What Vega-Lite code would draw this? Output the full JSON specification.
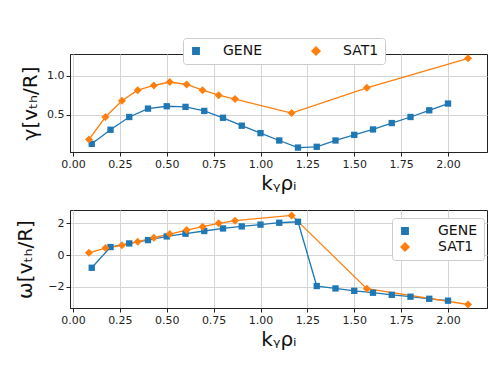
{
  "$schema": "https://vega.github.io/schema/vega-lite/v6.json",
  "padding": {"left": 15, "top": 37, "right": 0, "bottom": 0},
  "spacing": 15,
  "background": "white",
  "datasets": {
    "d": [
      {"series": "GENE", "ky": 0.1, "gamma": 0.125, "omega": -0.8},
      {"series": "GENE", "ky": 0.2, "gamma": 0.306, "omega": 0.5},
      {"series": "GENE", "ky": 0.3, "gamma": 0.47, "omega": 0.73},
      {"series": "GENE", "ky": 0.4, "gamma": 0.578, "omega": 0.94},
      {"series": "GENE", "ky": 0.5, "gamma": 0.608, "omega": 1.17},
      {"series": "GENE", "ky": 0.6, "gamma": 0.6, "omega": 1.34},
      {"series": "GENE", "ky": 0.7, "gamma": 0.548, "omega": 1.51},
      {"series": "GENE", "ky": 0.8, "gamma": 0.46, "omega": 1.67},
      {"series": "GENE", "ky": 0.9, "gamma": 0.358, "omega": 1.8},
      {"series": "GENE", "ky": 1.0, "gamma": 0.263, "omega": 1.91},
      {"series": "GENE", "ky": 1.1, "gamma": 0.168, "omega": 2.03},
      {"series": "GENE", "ky": 1.2, "gamma": 0.077, "omega": 2.09},
      {"series": "GENE", "ky": 1.3, "gamma": 0.087, "omega": -1.95},
      {"series": "GENE", "ky": 1.4, "gamma": 0.168, "omega": -2.1},
      {"series": "GENE", "ky": 1.5, "gamma": 0.24, "omega": -2.25},
      {"series": "GENE", "ky": 1.6, "gamma": 0.31, "omega": -2.37},
      {"series": "GENE", "ky": 1.7, "gamma": 0.392, "omega": -2.5},
      {"series": "GENE", "ky": 1.8, "gamma": 0.47, "omega": -2.62},
      {"series": "GENE", "ky": 1.9, "gamma": 0.556, "omega": -2.75},
      {"series": "GENE", "ky": 2.0, "gamma": 0.643, "omega": -2.87},
      {"series": "SAT1", "ky": 0.085, "gamma": 0.18, "omega": 0.14},
      {"series": "SAT1", "ky": 0.173, "gamma": 0.47, "omega": 0.44},
      {"series": "SAT1", "ky": 0.261, "gamma": 0.68, "omega": 0.61},
      {"series": "SAT1", "ky": 0.345, "gamma": 0.815, "omega": 0.84},
      {"series": "SAT1", "ky": 0.431, "gamma": 0.875, "omega": 1.09},
      {"series": "SAT1", "ky": 0.516, "gamma": 0.92, "omega": 1.32},
      {"series": "SAT1", "ky": 0.606, "gamma": 0.888, "omega": 1.57},
      {"series": "SAT1", "ky": 0.691, "gamma": 0.815, "omega": 1.78},
      {"series": "SAT1", "ky": 0.777, "gamma": 0.75, "omega": 1.99},
      {"series": "SAT1", "ky": 0.864, "gamma": 0.7, "omega": 2.16},
      {"series": "SAT1", "ky": 1.166, "gamma": 0.52, "omega": 2.49},
      {"series": "SAT1", "ky": 1.567, "gamma": 0.845, "omega": -2.12},
      {"series": "SAT1", "ky": 2.107, "gamma": 1.225, "omega": -3.11}
    ]
  },
  "config": {
    "font": "DejaVu Sans",
    "view": {"stroke": "#222", "strokeWidth": 1},
    "axis": {
      "domainColor": "#222",
      "tickColor": "#222",
      "tickSize": 4,
      "labelFont": "DejaVu Sans",
      "labelFontSize": 11,
      "labelColor": "#222",
      "labelPadding": 2,
      "gridColor": "#d4d4d4",
      "gridWidth": 1,
      "titleFont": "DejaVu Sans",
      "titleFontSize": 20,
      "titleFontWeight": "normal",
      "titleColor": "#111"
    },
    "legend": {
      "labelFont": "DejaVu Sans",
      "labelFontSize": 14,
      "labelColor": "#111",
      "labelOffset": 20,
      "padding": 6,
      "strokeColor": "#cccccc",
      "fillColor": "white",
      "cornerRadius": 3
    }
  },
  "resolve": {
    "scale": {"color": "independent", "shape": "independent", "size": "independent"},
    "legend": {"color": "independent", "shape": "independent", "size": "independent"}
  },
  "vconcat": [
    {
      "width": 417,
      "height": 98,
      "data": {"name": "d"},
      "encoding": {
        "x": {
          "field": "ky", "type": "quantitative",
          "scale": {"domain": [-0.016, 2.208], "nice": false, "zero": false},
          "axis": {"values": [0, 0.25, 0.5, 0.75, 1, 1.25, 1.5, 1.75, 2], "format": ".2f", "title": "kᵧρᵢ", "titlePadding": 4}
        },
        "y": {
          "field": "gamma", "type": "quantitative",
          "scale": {"domain": [0.02, 1.28], "nice": false, "zero": false},
          "axis": {"values": [0.5, 1.0], "format": ".1f", "title": "γ[vₜₕ/R]", "titlePadding": 6}
        }
      },
      "layer": [
        {
          "mark": {"type": "line", "strokeWidth": 1.3},
          "encoding": {"color": {"field": "series", "type": "nominal", "scale": {"domain": ["GENE", "SAT1"], "range": ["#1f77b4", "#ff7f0e"]}}}
        },
        {
          "mark": {"type": "point", "filled": true, "opacity": 1},
          "encoding": {
            "shape": {"field": "series", "type": "nominal", "scale": {"domain": ["GENE", "SAT1"], "range": ["square", "diamond"]}, "legend": null},
            "size": {"field": "series", "type": "nominal", "scale": {"domain": ["GENE", "SAT1"], "range": [40, 64]}, "legend": null},
            "color": {
              "field": "series", "type": "nominal",
              "scale": {"domain": ["GENE", "SAT1"], "range": ["#1f77b4", "#ff7f0e"]},
              "legend": {
                "title": null,
                "orient": "none",
                "legendX": 113,
                "legendY": -16,
                "direction": "horizontal",
                "columns": 2,
                "columnPadding": 46
              }
            }
          }
        }
      ]
    },
    {
      "width": 417,
      "height": 98,
      "data": {"name": "d"},
      "encoding": {
        "x": {
          "field": "ky", "type": "quantitative",
          "scale": {"domain": [-0.016, 2.208], "nice": false, "zero": false},
          "axis": {"values": [0, 0.25, 0.5, 0.75, 1, 1.25, 1.5, 1.75, 2], "format": ".2f", "title": "kᵧρᵢ", "titlePadding": 4}
        },
        "y": {
          "field": "omega", "type": "quantitative",
          "scale": {"domain": [-3.33, 2.83], "nice": false, "zero": false},
          "axis": {"values": [-2, 0, 2], "format": "d", "title": "ω[vₜₕ/R]", "titlePadding": 12}
        }
      },
      "layer": [
        {
          "mark": {"type": "line", "strokeWidth": 1.3},
          "encoding": {"color": {"field": "series", "type": "nominal", "scale": {"domain": ["GENE", "SAT1"], "range": ["#1f77b4", "#ff7f0e"]}}}
        },
        {
          "mark": {"type": "point", "filled": true, "opacity": 1},
          "encoding": {
            "shape": {"field": "series", "type": "nominal", "scale": {"domain": ["GENE", "SAT1"], "range": ["square", "diamond"]}, "legend": null},
            "size": {"field": "series", "type": "nominal", "scale": {"domain": ["GENE", "SAT1"], "range": [40, 64]}, "legend": null},
            "color": {
              "field": "series", "type": "nominal",
              "scale": {"domain": ["GENE", "SAT1"], "range": ["#1f77b4", "#ff7f0e"]},
              "legend": {
                "title": null,
                "orient": "none",
                "legendX": 322,
                "legendY": 8,
                "direction": "vertical",
                "labelOffset": 26,
                "rowPadding": 2
              }
            }
          }
        }
      ]
    }
  ]
}
